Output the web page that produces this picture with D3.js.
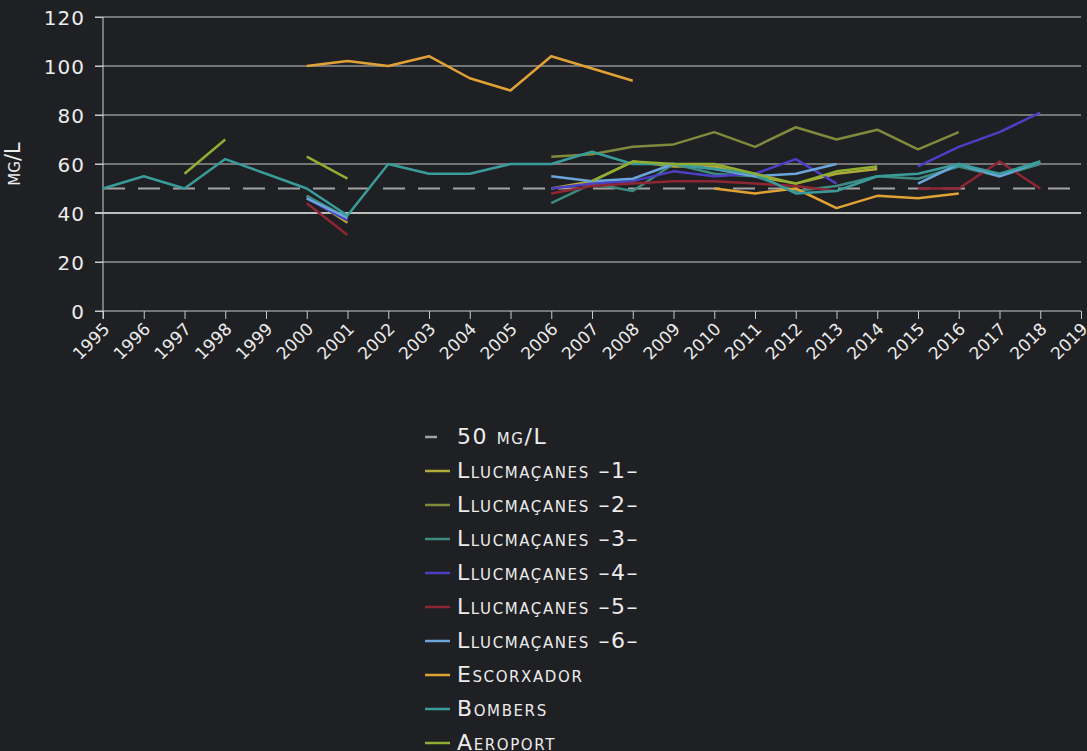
<!DOCTYPE html>
<html>
<head>
<meta charset="utf-8">
<script src="https://cdn.jsdelivr.net/npm/d3@7"></script>
<style>
  html, body { margin: 0; padding: 0; background: #1f2023; }
  svg text { font-family: "DejaVu Sans", sans-serif; font-variant: small-caps; fill: #ececec; }
</style>
</head>
<body>
<svg width="1087" height="751"></svg>
<script>
// years on the x axis
var years = d3.range(1995, 2020);
var yTicks = [0, 20, 40, 60, 80, 100, 120];
var limit = 50;

// values per year, missing = no measure
var llu1 = {2000:47, 2001:36, 2006:50, 2007:53, 2008:61, 2009:59, 2010:59, 2011:55, 2012:52, 2013:56, 2014:58};
var llu2 = {2006:63, 2007:64, 2008:67, 2009:68, 2010:73, 2011:67, 2012:75, 2013:70, 2014:74, 2015:66, 2016:73};
var llu3 = {2000:47, 2001:38, 2006:44, 2007:52, 2008:49, 2009:60, 2010:56, 2011:55, 2012:49, 2013:51, 2014:55, 2015:54, 2016:59, 2017:55, 2018:60};
var llu4 = {2000:46, 2001:37, 2006:50, 2007:52, 2008:53, 2009:57, 2010:55, 2011:56, 2012:62, 2013:52, 2015:59, 2016:67, 2017:73, 2018:81};
var llu5 = {2000:44, 2001:31, 2006:48, 2007:51, 2008:52, 2009:53, 2010:53, 2011:52, 2012:51, 2013:49, 2015:50, 2016:50, 2017:61, 2018:50};
var llu6 = {2000:46, 2001:38, 2006:55, 2007:53, 2008:54, 2009:60, 2010:58, 2011:55, 2012:56, 2013:60, 2015:52, 2016:60, 2017:55, 2018:61};
var escorxador = {2000:100, 2001:102, 2002:100, 2003:104, 2004:95, 2005:90, 2006:104, 2007:99, 2008:94, 2010:50, 2011:48, 2012:50, 2013:42, 2014:47, 2015:46, 2016:48};
var bombers = {1995:50, 1996:55, 1997:50, 1998:62, 1999:56, 2000:50, 2001:39, 2002:60, 2003:56, 2004:56, 2005:60, 2006:60, 2007:65, 2008:60, 2009:60, 2010:58, 2011:56, 2012:48, 2013:49, 2014:55, 2015:56, 2016:60, 2017:56, 2018:61};
var aeroport = {1997:56, 1998:70, 2000:63, 2001:54, 2007:53, 2008:61, 2009:60, 2010:60, 2011:56, 2012:52, 2013:57, 2014:59};

var seriesNames = ["Llucmaçanes –1–", "Llucmaçanes –2–", "Llucmaçanes –3–", "Llucmaçanes –4–", "Llucmaçanes –5–", "Llucmaçanes –6–", "Escorxador", "Bombers", "Aeroport"];
var seriesValues = [llu1, llu2, llu3, llu4, llu5, llu6, escorxador, bombers, aeroport];
var seriesColors = ["#b3a83a", "#7f8a3c", "#3d8b80", "#4d3fc4", "#8e2634", "#6aa6dc", "#e0a235", "#3a9c9a", "#8fae33"];

var svg = d3.select("svg");
var margin = {top: 17, right: 6, left: 103};
var width = 1087 - margin.left - margin.right;

var x = d3.scaleLinear().domain([1995, 2019]).range([margin.left, margin.left + width]);
var y = d3.scaleLinear().domain([0, 120]).range([311, margin.top]);

// grid
svg.append("g")
  .selectAll("line")
  .data(yTicks.filter(function(d){ return d > 0; }))
  .enter().append("line")
    .attr("x1", margin.left - 8).attr("x2", x(2019))
    .attr("y1", function(d){ return y(d); }).attr("y2", function(d){ return y(d); })
    .attr("stroke", function(d){ return d == 40 ? "#f2f2f2" : "#c9c9c9"; })
    .attr("stroke-width", function(d){ return d == 40 ? 1.6 : 1.1; });

// y axis
var yAxis = svg.append("g")
  .attr("transform", "translate(" + margin.left + ",0)")
  .call(d3.axisLeft(y).tickValues(yTicks).tickSize(8).tickPadding(10));
yAxis.select(".domain").attr("stroke", "#d0d0d0").attr("d", "M0," + y(120) + "V" + (y(0) + 8));
yAxis.selectAll(".tick line").attr("stroke", "#c9c9c9");
yAxis.selectAll(".tick text").style("font-size", "20px").style("letter-spacing", "1px").attr("fill", "#ececec").attr("dy", "0.36em");

// x axis
var xAxis = svg.append("g")
  .attr("transform", "translate(0," + y(0) + ")")
  .call(d3.axisBottom(x).tickValues(years).tickFormat(d3.format("d")).tickSize(8).tickSizeOuter(0));
xAxis.select(".domain").attr("stroke", "#c9c9c9").attr("d", "M" + (margin.left - 8) + ",0H" + x(2019));
xAxis.selectAll(".tick line").attr("stroke", "#c9c9c9");
xAxis.selectAll(".tick text")
  .style("font-size", "17px").attr("fill", "#ececec")
  .attr("text-anchor", "end")
  .attr("transform", "translate(3,15) rotate(-45)")
  .attr("dy", "0.35em").attr("y", 0).attr("x", 0);

// y label
svg.append("text")
  .attr("transform", "translate(20," + y(60) + ") rotate(-90)")
  .attr("text-anchor", "middle")
  .style("font-size", "21px")
  .text("mg/L");

// limit line
svg.append("line")
  .attr("x1", x(1995)).attr("x2", x(2019))
  .attr("y1", y(limit)).attr("y2", y(limit))
  .attr("stroke", "#a3a3a3").attr("stroke-width", 2.2)
  .attr("stroke-dasharray", "22,13");

// series
var line = d3.line()
  .defined(function(d){ return d.v != null; })
  .x(function(d){ return x(d.year); })
  .y(function(d){ return y(d.v); });

seriesValues.forEach(function(s, i) {
  var pts = years.map(function(yr){ return {year: yr, v: s[yr] == null ? null : s[yr]}; });
  svg.append("path")
    .datum(pts)
    .attr("fill", "none")
    .attr("stroke", seriesColors[i])
    .attr("stroke-width", 2.5)
    .attr("stroke-linejoin", "round")
    .attr("d", line);
});

// legend
var legend = svg.append("g").attr("transform", "translate(425,437)");
var items = [{name: "50 mg/L", color: "#a3a3a3", dash: true}].concat(seriesNames.map(function(n, i){ return {name: n, color: seriesColors[i]}; }));
var row = legend.selectAll("g").data(items).enter().append("g")
  .attr("transform", function(d, i){ return "translate(0," + (i * 34) + ")"; });
row.append("line")
  .attr("x1", 0).attr("x2", function(d){ return d.dash ? 12 : 25; })
  .attr("y1", 0).attr("y2", 0)
  .attr("stroke", function(d){ return d.color; })
  .attr("stroke-width", 2.5);
row.append("text")
  .attr("x", 32).attr("dy", "0.33em")
  .style("font-size", "22px")
  .style("letter-spacing", "1.6px")
  .text(function(d){ return d.name; });
</script>
</body>
</html>
